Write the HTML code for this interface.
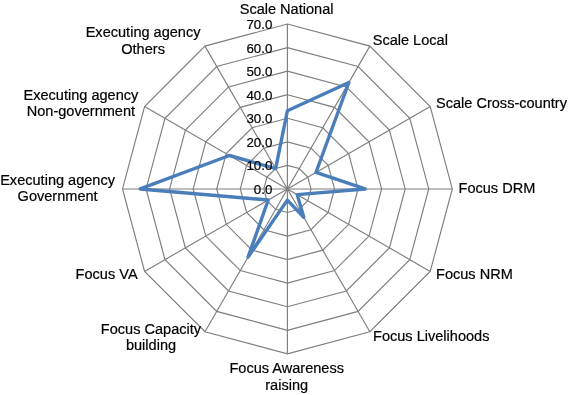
<!DOCTYPE html><html><head><meta charset="utf-8"><style>html,body{margin:0;padding:0;background:#fff}svg{display:block}text{font-family:"Liberation Sans",Arial,sans-serif;fill:#000}</style></head><body>
<svg width="568" height="395" viewBox="0 0 568 395">
<rect width="568" height="395" fill="#fff"/>
<g fill="none" stroke="#7e7e7e" stroke-width="1.15">
<polygon points="287.40,165.39 299.18,168.55 307.80,177.17 310.96,188.95 307.80,200.73 299.18,209.35 287.40,212.51 275.62,209.35 267.00,200.73 263.84,188.95 267.00,177.17 275.62,168.55"/>
<polygon points="287.40,141.84 310.96,148.15 328.20,165.39 334.51,188.95 328.20,212.51 310.96,229.75 287.40,236.06 263.84,229.75 246.60,212.51 240.29,188.95 246.60,165.39 263.84,148.15"/>
<polygon points="287.40,118.28 322.74,127.75 348.60,153.61 358.07,188.95 348.60,224.29 322.74,250.15 287.40,259.62 252.06,250.15 226.20,224.29 216.73,188.95 226.20,153.61 252.06,127.75"/>
<polygon points="287.40,94.72 334.51,107.35 369.00,141.84 381.63,188.95 369.00,236.06 334.51,270.55 287.40,283.18 240.29,270.55 205.80,236.06 193.17,188.95 205.80,141.84 240.29,107.35"/>
<polygon points="287.40,71.16 346.29,86.94 389.41,130.06 405.19,188.95 389.41,247.84 346.29,290.96 287.40,306.74 228.51,290.96 185.39,247.84 169.61,188.95 185.39,130.06 228.51,86.94"/>
<polygon points="287.40,47.61 358.07,66.54 409.81,118.28 428.74,188.95 409.81,259.62 358.07,311.36 287.40,330.29 216.73,311.36 164.99,259.62 146.06,188.95 164.99,118.28 216.73,66.54"/>
<polygon points="287.40,24.05 369.85,46.14 430.21,106.50 452.30,188.95 430.21,271.40 369.85,331.76 287.40,353.85 204.95,331.76 144.59,271.40 122.50,188.95 144.59,106.50 204.95,46.14"/>
<line x1="287.40" y1="188.95" x2="287.40" y2="24.05"/>
<line x1="287.40" y1="188.95" x2="369.85" y2="46.14"/>
<line x1="287.40" y1="188.95" x2="430.21" y2="106.50"/>
<line x1="287.40" y1="188.95" x2="452.30" y2="188.95"/>
<line x1="287.40" y1="188.95" x2="430.21" y2="271.40"/>
<line x1="287.40" y1="188.95" x2="369.85" y2="331.76"/>
<line x1="287.40" y1="188.95" x2="287.40" y2="353.85"/>
<line x1="287.40" y1="188.95" x2="204.95" y2="331.76"/>
<line x1="287.40" y1="188.95" x2="144.59" y2="271.40"/>
<line x1="287.40" y1="188.95" x2="122.50" y2="188.95"/>
<line x1="287.40" y1="188.95" x2="144.59" y2="106.50"/>
<line x1="287.40" y1="188.95" x2="204.95" y2="46.14"/>
</g>
<polygon points="287.40,110.74 348.88,82.46 315.96,172.46 365.14,188.95 297.19,194.60 303.77,217.31 287.40,200.14 248.06,257.09 268.22,200.02 140.17,188.95 229.46,155.50 275.62,168.55" fill="none" stroke="#4a7ebb" stroke-width="3.4" stroke-linejoin="round"/>
<g font-size="13.3" text-anchor="end" stroke="#000" stroke-width="0.2">
<text x="272.3" y="193.85">0.0</text>
<text x="272.3" y="170.29">10.0</text>
<text x="272.3" y="146.74">20.0</text>
<text x="272.3" y="123.18">30.0</text>
<text x="272.3" y="99.62">40.0</text>
<text x="272.3" y="76.06">50.0</text>
<text x="272.3" y="52.51">60.0</text>
<text x="272.3" y="28.95">70.0</text>
</g>
<g font-size="14.55" stroke="#000" stroke-width="0.2">
<text x="286.6" y="13.8" text-anchor="middle">Scale National</text>
<text x="372.7" y="45.0" text-anchor="start">Scale Local</text>
<text x="436" y="107.7" text-anchor="start">Scale Cross-country</text>
<text x="458.5" y="193.0" text-anchor="start">Focus DRM</text>
<text x="436" y="278.7" text-anchor="start">Focus NRM</text>
<text x="373" y="341.4" text-anchor="start">Focus Livelihoods</text>
<text x="286.7" y="373.0" text-anchor="middle">Focus Awareness</text>
<text x="286.7" y="389.5" text-anchor="middle">raising</text>
<text x="151" y="333.7" text-anchor="middle">Focus Capacity</text>
<text x="151" y="350.2" text-anchor="middle">building</text>
<text x="137.6" y="279.0" text-anchor="end">Focus VA</text>
<text x="57.6" y="184.9" text-anchor="middle">Executing agency</text>
<text x="57.6" y="201.4" text-anchor="middle">Government</text>
<text x="80.9" y="99.7" text-anchor="middle">Executing agency</text>
<text x="80.9" y="116.2" text-anchor="middle">Non-government</text>
<text x="143.1" y="37.0" text-anchor="middle">Executing agency</text>
<text x="143.1" y="53.5" text-anchor="middle">Others</text>
</g>
</svg></body></html>
